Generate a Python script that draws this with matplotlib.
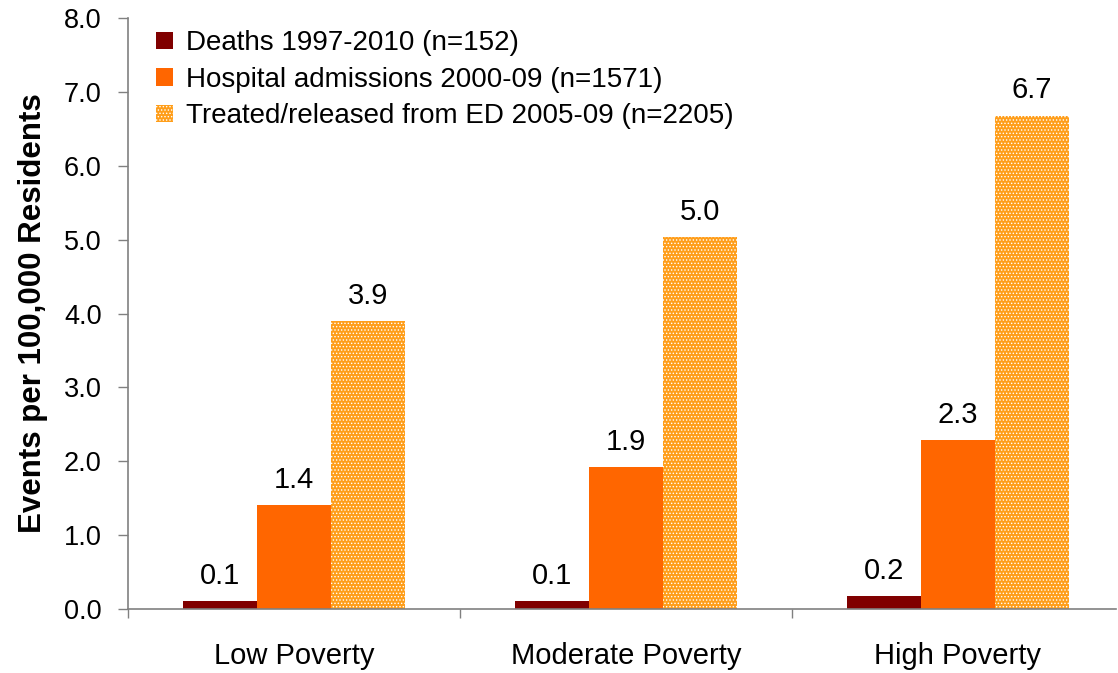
import matplotlib
matplotlib.use("Agg")
import matplotlib.pyplot as plt
import numpy as np

categories = ["Low Poverty", "Moderate Poverty", "High Poverty"]
series_names = ["Deaths 1997-2010 (n=152)",
                "Hospital admissions 2000-09 (n=1571)",
                "Treated/released from ED 2005-09 (n=2205)"]
deaths = [0.11, 0.11, 0.18]
hospital = [1.41, 1.92, 2.29]
ed = [3.9, 5.03, 6.68]
labels_deaths = ["0.1", "0.1", "0.2"]
labels_hospital = ["1.4", "1.9", "2.3"]
labels_ed = ["3.9", "5.0", "6.7"]
yticks = [0, 1, 2, 3, 4, 5, 6, 7, 8]

plt.rcParams['font.family'] = ['Liberation Sans', 'DejaVu Sans']
plt.rcParams['hatch.color'] = 'white'
plt.rcParams['hatch.linewidth'] = 0.6

W, H = 1118, 673
fig = plt.figure(figsize=(W / 100, H / 100), dpi=100)
ax = fig.add_axes([128 / W, 1 - 609 / H, (1116 - 128) / W, (609 - 18) / H])

x = np.arange(len(categories))
bw = 0.222
b1 = ax.bar(x - bw, deaths, bw, color="#800000", linewidth=0, label=series_names[0])
b2 = ax.bar(x, hospital, bw, color="#FF6600", linewidth=0, label=series_names[1])
b3 = ax.bar(x + bw, ed, bw, color="#FF9E1A", linewidth=0, hatch='.....', label=series_names[2])

for bars, labs in [(b1, labels_deaths), (b2, labels_hospital), (b3, labels_ed)]:
    for rect, lab in zip(bars, labs):
        ax.annotate(lab, (rect.get_x() + rect.get_width() / 2, rect.get_height()),
                    xytext=(0, 8), textcoords="offset points",
                    ha="center", va="bottom", fontsize=21)

ax.set_ylim(0, 8)
ax.set_xlim(-0.5, -0.5 + (1116 - 128) / 332)
ax.set_yticks(yticks)
ax.set_yticklabels([f"{v:.1f}" for v in yticks], fontsize=19.5)
ax.set_xticks(x)
ax.set_xticklabels(categories, fontsize=21)
ax.set_xticks([-0.5, 0.5, 1.5], minor=True)
ax.tick_params(axis='x', which='major', length=0, pad=24)
ax.tick_params(axis='x', which='minor', length=6.5, width=1, color='#808080', direction='out')
ax.tick_params(axis='y', which='major', length=7, width=1, color='#808080', direction='out', pad=12)

for s in ['top', 'right']:
    ax.spines[s].set_visible(False)
for s in ['left', 'bottom']:
    ax.spines[s].set_color('#808080')
    ax.spines[s].set_linewidth(1.2)

ax.set_ylabel("Events per 100,000 Residents", fontsize=22.5, fontweight='bold', labelpad=11)

leg = ax.legend(loc='upper left', bbox_to_anchor=(0.017, 0.998), borderaxespad=0, frameon=False,
                fontsize=20, handlelength=0.6, handleheight=0.6,
                handletextpad=0.5, labelspacing=0.38)

fig.savefig("out.png", dpi=100)
